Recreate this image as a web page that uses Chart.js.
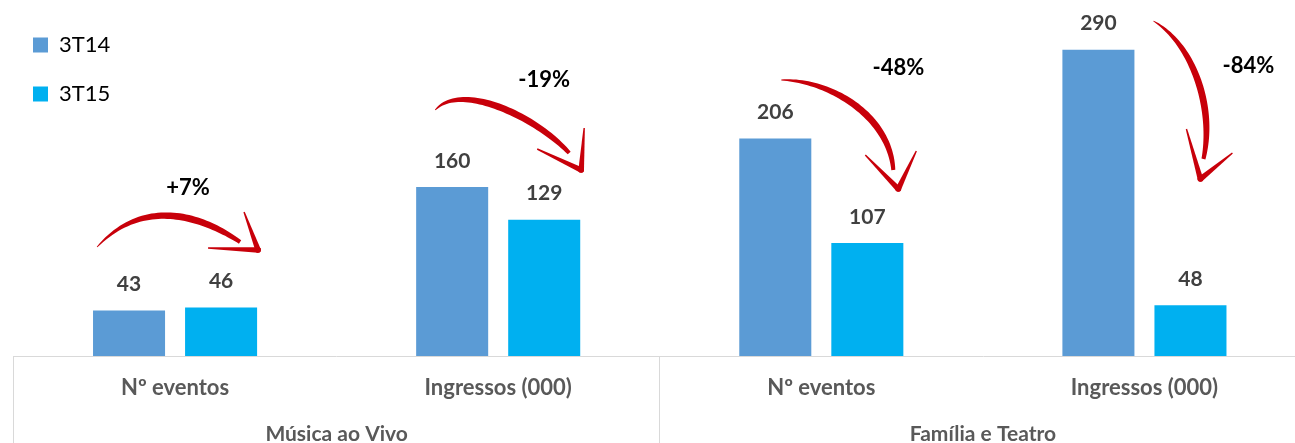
<!DOCTYPE html>
<html>
<head>
<meta charset="utf-8">
<script src="https://cdn.jsdelivr.net/npm/chart.js@4.4.0/dist/chart.umd.min.js"></script>
<style>
html,body{margin:0;padding:0;background:#ffffff;overflow:hidden;}
#wrap{width:1306px;height:460px;position:relative;}
</style>
</head>
<body>
<div id="wrap"><canvas id="c"></canvas></div>
<script>
// ---- data ----
const categories = ['Nº eventos', 'Ingressos (000)', 'Nº eventos', 'Ingressos (000)'];
const groups = ['Música ao Vivo', 'Família e Teatro'];
const series3T14 = [43, 160, 206, 290];
const series3T15 = [46, 129, 107, 48];
const changeLabels = ['+7%', '-19%', '-48%', '-84%'];

// ---- decoration geometry (dx from category centre, y in px) ----
const arrowShapes = [
  {s:[-78,247], c1:[-30,195], c2:[30,218], e:[65,242], tip:[83,250], a1:[69,212], a2:[33,248], lab:[13,188]},
  {s:[-63,110], c1:[-38,82], c2:[36,115], e:[71,153], tip:[83,170], a1:[86,128], a2:[39,149], lab:[46,80]},
  {s:[-40,80], c1:[8,80], c2:[68,115], e:[72,170], tip:[77,189], a1:[44,155], a2:[95,151], lab:[77,68]},
  {s:[9,21], c1:[50,45], c2:[70,110], e:[59,159], tip:[56,179], a1:[42,129], a2:[88,153], lab:[104,66]}
];

const FONT = 'Lato';

function bez(p0,p1,p2,p3,t){
  const u=1-t;
  return [u*u*u*p0[0]+3*u*u*t*p1[0]+3*u*t*t*p2[0]+t*t*t*p3[0],
          u*u*u*p0[1]+3*u*u*t*p1[1]+3*u*t*t*p2[1]+t*t*t*p3[1]];
}
function bezD(p0,p1,p2,p3,t){
  const u=1-t;
  return [3*u*u*(p1[0]-p0[0])+6*u*t*(p2[0]-p1[0])+3*t*t*(p3[0]-p2[0]),
          3*u*u*(p1[1]-p0[1])+6*u*t*(p2[1]-p1[1])+3*t*t*(p3[1]-p2[1])];
}
function brushCurve(ctx,p0,p1,p2,p3,wmax){
  const N=50, L=[], R=[];
  for(let i=0;i<=N;i++){
    const t=i/N, p=bez(p0,p1,p2,p3,t), d=bezD(p0,p1,p2,p3,t);
    const len=Math.hypot(d[0],d[1])||1, nx=-d[1]/len, ny=d[0]/len;
    const w=0.4+wmax*Math.pow(Math.sin(Math.PI*t*0.85),0.8);
    L.push([p[0]+nx*w,p[1]+ny*w]); R.push([p[0]-nx*w,p[1]-ny*w]);
  }
  ctx.beginPath();
  ctx.moveTo(L[0][0],L[0][1]);
  L.forEach(q=>ctx.lineTo(q[0],q[1]));
  for(let i=R.length-1;i>=0;i--) ctx.lineTo(R[i][0],R[i][1]);
  ctx.closePath(); ctx.fill();
}
function taper(ctx,a,b,wa,wb){
  const dx=b[0]-a[0], dy=b[1]-a[1], len=Math.hypot(dx,dy)||1;
  const nx=-dy/len, ny=dx/len;
  ctx.beginPath();
  ctx.moveTo(a[0]+nx*wa,a[1]+ny*wa);
  ctx.lineTo(b[0]+nx*wb,b[1]+ny*wb);
  ctx.lineTo(b[0]-nx*wb,b[1]-ny*wb);
  ctx.lineTo(a[0]-nx*wa,a[1]-ny*wa);
  ctx.closePath(); ctx.fill();
  ctx.beginPath(); ctx.arc(a[0],a[1],wa,0,Math.PI*2); ctx.fill();
}

const decorPlugin = {
  id:'decor',
  afterLayout(chart){
    const lg = chart.legend;
    if(lg){ lg.left = 6; lg.top = 7; }
  },
  afterDatasetsDraw(chart){
    const ctx = chart.ctx, xs = chart.scales.x;
    ctx.save();
    // value labels
    ctx.font = 'bold 21px ' + FONT;
    ctx.fillStyle = '#404040';
    ctx.textAlign = 'center';
    ctx.textBaseline = 'middle';
    chart.data.datasets.forEach((ds,di)=>{
      chart.getDatasetMeta(di).data.forEach((el,i)=>{
        ctx.fillText(String(ds.data[i]), el.x, el.y - 26);
      });
    });
    // arrows + change labels
    arrowShapes.forEach((a,i)=>{
      const cx = xs.getPixelForValue(i);
      const P = q => [cx+q[0], q[1]];
      ctx.fillStyle = '#C8000A';
      brushCurve(ctx,P(a.s),P(a.c1),P(a.c2),P(a.e),3.0);
      taper(ctx,P(a.tip),P(a.a1),2.8,0.7);
      taper(ctx,P(a.tip),P(a.a2),2.8,0.7);
      ctx.fillStyle = '#000000';
      ctx.font = 'bold 22px ' + FONT;
      const l = P(a.lab);
      ctx.fillText(changeLabels[i], l[0], l[1]);
    });
    ctx.restore();
  },
  afterDraw(chart){
    const ctx = chart.ctx, xs = chart.scales.x;
    const bounds = [xs.left, (xs.getPixelForValue(1)+xs.getPixelForValue(2))/2, xs.right];
    ctx.save();
    ctx.strokeStyle = '#d9d9d9';
    ctx.lineWidth = 1;
    bounds.forEach(b=>{
      const px = Math.floor(b)+0.5;
      ctx.beginPath(); ctx.moveTo(px, xs.top); ctx.lineTo(px, chart.height); ctx.stroke();
    });
    ctx.restore();
  }
};

new Chart(document.getElementById('c'), {
  type:'bar',
  data:{
    labels: categories,
    datasets:[
      {label:'3T14', data:series3T14, backgroundColor:'#5B9BD5', barPercentage:0.7826, categoryPercentage:0.5697},
      {label:'3T15', data:series3T15, backgroundColor:'#00B0F0', barPercentage:0.7826, categoryPercentage:0.5697}
    ]
  },
  options:{
    responsive:true,
    maintainAspectRatio:false,
    animation:false,
    layout:{padding:{left:13.5, right:0, top:0, bottom:0}},
    plugins:{
      tooltip:{enabled:false},
      legend:{
        position:'chartArea',
        align:'start',
        labels:{boxWidth:15, boxHeight:15, padding:27, color:'#000000', font:{family:FONT, size:22}}
      }
    },
    scales:{
      x:{
        type:'category', offset:true, weight:0,
        grid:{display:false, drawTicks:false},
        border:{display:true, color:'#d9d9d9', width:1},
        ticks:{font:{family:FONT, size:22, weight:'bold'}, color:'#595959', padding:19, maxRotation:0, autoSkip:false},
        afterFit(s){ s.height = 56; }
      },
      x2:{
        type:'category', labels:groups, position:'bottom', offset:true, weight:1,
        grid:{display:false, drawTicks:false},
        border:{display:false},
        ticks:{font:{family:FONT, size:21, weight:'bold'}, color:'#595959', padding:10, maxRotation:0, autoSkip:false},
        afterFit(s){ s.height = 48; }
      },
      y:{display:false, min:0, max:337}
    }
  },
  plugins:[decorPlugin]
});
</script>
</body>
</html>
